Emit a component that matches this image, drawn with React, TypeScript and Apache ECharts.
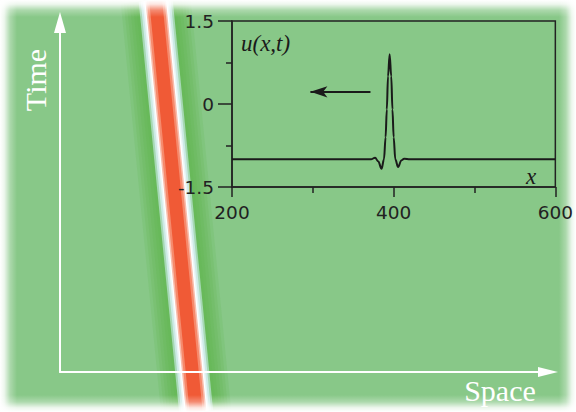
import React, { useEffect, useRef } from 'react';
import * as echarts from 'echarts';

// Space-time track of the soliton (main panel, arbitrary units)
const solitonTime = [106.4, -11.4];
const solitonSpace = [19.6, 27.9];

// Inset profile u(x,t)
const profileX = [200, 372, 377, 381, 385, 388, 390, 391.5, 393, 395, 397, 398.5, 400, 402, 405.5, 409.5, 413, 420, 600];
const profileU = [-1, -1, -0.97, -1.04, -1.17, -1.0, -0.6, -0.1, 0.5, 0.9, 0.5, -0.1, -0.6, -1.0, -1.14, -1.02, -0.99, -1, -1];

const insetXLabels = [200, 400, 600];
const insetYLabels = [-1.5, 0, 1.5];

// direction arrow in inset (data units)
const moveArrowX = [371.3, 297];
const moveArrowU = 0.22;

const stripeLayers = [
  { w: 70, c: 'rgba(100,184,84,0.2)' },
  { w: 64, c: 'rgba(100,184,84,0.22)' },
  { w: 58, c: 'rgba(100,184,84,0.25)' },
  { w: 52, c: 'rgba(100,184,84,0.28)' },
  { w: 46, c: 'rgba(100,184,84,0.32)' },
  { w: 40, c: 'rgba(100,184,84,0.4)' },
  { w: 34, c: '#a6d8b4' },
  { w: 30, c: '#cdeae6' },
  { w: 26, c: '#eaf6f7' },
  { w: 23, c: '#ffffff' },
  { w: 20.5, c: '#f9bcab' },
  { w: 17.5, c: '#f68a6c' },
  { w: 13, c: '#f05a36' },
];

export default function App() {
  const ref = useRef<HTMLDivElement>(null);
  useEffect(() => {
    document.body.style.margin = '0';
    const chart = echarts.init(ref.current!, null, { renderer: 'svg' });
    const track = solitonSpace.map((s, i) => [s, solitonTime[i]]);
    const white = (o: number) => `rgba(255,255,255,${o})`;
    const fade = (x0: number, y0: number, x1: number, y1: number) =>
      new echarts.graphic.LinearGradient(x0, y0, x1, y1, [
        { offset: 0, color: white(1) },
        { offset: 0.25, color: white(0.85) },
        { offset: 0.6, color: white(0.3) },
        { offset: 1, color: white(0) },
      ]);
    const dark = '#222222';
    const option: any = {
      animation: false,
      backgroundColor: '#ffffff',
      grid: [
        { left: 60, top: 22.5, right: 28, bottom: 40, show: false },
        {
          left: 232, top: 21, width: 327, height: 166, show: true,
          backgroundColor: 'transparent', borderColor: dark, borderWidth: 1.5, z: 10,
        },
      ],
      xAxis: [
        {
          type: 'value', gridIndex: 0, min: 0, max: 100, z: 10,
          axisLine: { show: true, onZero: false, symbol: ['none', 'triangle'], symbolSize: [10, 20], lineStyle: { color: '#fff', width: 2 } },
          axisTick: { show: false }, axisLabel: { show: false }, splitLine: { show: false },
        },
        {
          type: 'value', gridIndex: 1, min: 200, max: 600, interval: 200, z: 10,
          axisLine: { show: true, onZero: false, lineStyle: { color: dark, width: 1.5 } },
          axisTick: { show: true, length: 10, lineStyle: { color: dark, width: 1.5 } },
          minorTick: { show: true, splitNumber: 2, length: 6, lineStyle: { color: dark, width: 1.5 } },
          axisLabel: {
            color: dark, fontSize: 18.5, fontFamily: 'DejaVu Sans', margin: 16,
            formatter: (v: number) => (insetXLabels.includes(v) ? String(v) : ''),
          },
          splitLine: { show: false }, minorSplitLine: { show: false },
        },
      ],
      yAxis: [
        {
          type: 'value', gridIndex: 0, min: 0, max: 100, z: 10,
          axisLine: { show: true, onZero: false, symbol: ['none', 'triangle'], symbolSize: [12, 21], lineStyle: { color: '#fff', width: 2 } },
          axisTick: { show: false }, axisLabel: { show: false }, splitLine: { show: false },
        },
        {
          type: 'value', gridIndex: 1, min: -1.5, max: 1.5, interval: 1.5, z: 10,
          axisLine: { show: true, onZero: false, lineStyle: { color: dark, width: 1.5 } },
          axisTick: { show: true, length: 14, lineStyle: { color: dark, width: 1.5 } },
          minorTick: { show: true, splitNumber: 2, length: 6, lineStyle: { color: dark, width: 1.5 } },
          axisLabel: {
            color: dark, fontSize: 18.5, fontFamily: 'DejaVu Sans', margin: 18,
            formatter: (v: number) => (insetYLabels.includes(v) ? String(v) : ''),
          },
          splitLine: { show: false }, minorSplitLine: { show: false },
        },
      ],
      graphic: [
        { type: 'rect', z: -10, silent: true, shape: { x: 0, y: 0, width: 576, height: 412 }, style: { fill: '#88c888' } },
        { type: 'rect', z: 5, silent: true, shape: { x: 0, y: 0, width: 576, height: 17 }, style: { fill: fade(0, 0, 0, 1) } },
        { type: 'rect', z: 5, silent: true, shape: { x: 0, y: 0, width: 17, height: 412 }, style: { fill: fade(0, 0, 1, 0) } },
        { type: 'rect', z: 5, silent: true, shape: { x: 0, y: 395, width: 576, height: 17 }, style: { fill: fade(0, 1, 0, 0) } },
        { type: 'rect', z: 5, silent: true, shape: { x: 559, y: 0, width: 17, height: 412 }, style: { fill: fade(1, 0, 0, 0) } },
        {
          type: 'text', z: 20, silent: true, x: 35, y: 80, rotation: Math.PI / 2,
          style: { text: 'Time', fill: '#fff', fontSize: 30, fontFamily: 'Liberation Serif', align: 'center', verticalAlign: 'middle' },
        },
        {
          type: 'text', z: 20, silent: true, x: 500, y: 390,
          style: { text: 'Space', fill: '#fff', fontSize: 30, fontFamily: 'Liberation Serif', align: 'center', verticalAlign: 'middle' },
        },
        {
          type: 'text', z: 20, silent: true, x: 241, y: 43,
          style: { text: 'u(x,t)', fill: '#1a1a1a', fontSize: 23, fontStyle: 'italic', fontFamily: 'Liberation Serif', align: 'left', verticalAlign: 'middle' },
        },
        {
          type: 'text', z: 20, silent: true, x: 526, y: 176,
          style: { text: 'x', fill: '#1a1a1a', fontSize: 23, fontStyle: 'italic', fontFamily: 'Liberation Serif', align: 'left', verticalAlign: 'middle' },
        },
      ],
      series: [
        ...stripeLayers.map((l) => ({
          type: 'line', xAxisIndex: 0, yAxisIndex: 0, data: track, clip: false, silent: true,
          showSymbol: false, symbol: 'none', z: 2,
          lineStyle: { color: l.c, width: l.w, cap: 'butt' },
        })),
        {
          type: 'line', xAxisIndex: 1, yAxisIndex: 1, z: 12, silent: true,
          data: profileX.map((x, i) => [x, profileU[i]]),
          smooth: 0.35, smoothMonotone: 'x', showSymbol: false, symbol: 'none',
          lineStyle: { color: '#1a1a1a', width: 2 },
          markLine: {
            silent: true, symbol: ['none', 'arrow'], symbolSize: [8.5, 17],
            label: { show: false },
            lineStyle: { color: '#1a1a1a', width: 2, type: 'solid' },
            data: [[{ coord: [moveArrowX[0], moveArrowU] }, { coord: [moveArrowX[1], moveArrowU] }]],
          },
        },
      ],
    };
    chart.setOption(option);
    return () => chart.dispose();
  }, []);
  return <div ref={ref} style={{ width: 576, height: 412 }} />;
}
